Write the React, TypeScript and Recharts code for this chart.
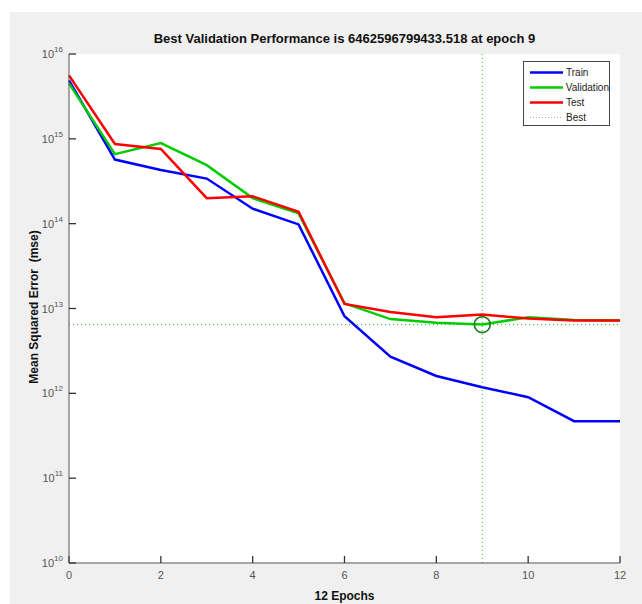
import React from 'react';
import { LineChart, Line, XAxis, YAxis, ReferenceLine, ReferenceDot } from 'recharts';

const epochs = [0, 1, 2, 3, 4, 5, 6, 7, 8, 9, 10, 11, 12];
const train = [4.9e15, 5.7e14, 4.3e14, 3.4e14, 1.5e14, 9.8e13, 8.1e12, 2.7e12, 1.6e12, 1.18e12, 9.0e11, 4.7e11, 4.7e11];
const validation = [4.5e15, 6.6e14, 8.9e14, 4.9e14, 2.0e14, 1.32e14, 1.15e13, 7.5e12, 6.8e12, 6.4626e12, 7.9e12, 7.3e12, 7.2e12];
const test = [5.6e15, 8.7e14, 7.6e14, 2.0e14, 2.1e14, 1.38e14, 1.13e13, 9.1e12, 7.9e12, 8.5e12, 7.6e12, 7.2e12, 7.2e12];

const bestEpoch = 9;
const bestPerf = 6462596799433.518;

const xTicks = [0, 2, 4, 6, 8, 10, 12];
const decades = [10, 11, 12, 13, 14, 15, 16];
const majorTicks = decades.map((d) => Math.pow(10, d));
const minorTicks: number[] = [];
decades.slice(0, -1).forEach((d) => {
  for (let m = 2; m <= 9; m++) minorTicks.push(m * Math.pow(10, d));
});

const data = epochs.map((e, i) => ({ epoch: e, train: train[i], validation: validation[i], test: test[i] }));

const FONT = '"Liberation Sans", Arial, Helvetica, sans-serif';
const AXIS = '#555';

const renderYTick = (props: any) => {
  const { x, y, payload, index } = props;
  const exp = Math.round(Math.log10(payload.value));
  return (
    <text key={`yt-${index}`} x={x - 6} y={y + 4} textAnchor="end" fill={AXIS} fontSize={11} fontFamily={FONT}>
      10
      <tspan dy={-6} fontSize={8}>{exp}</tspan>
    </text>
  );
};

const renderXTick = (props: any) => {
  const { x, y, payload, index } = props;
  return (
    <text key={`xt-${index}`} x={x} y={y + 16} textAnchor="middle" fill={AXIS} fontSize={11} fontFamily={FONT}>
      {payload.value}
    </text>
  );
};

const noLabel = () => <g />;

const legendItems = [
  { name: 'Train', color: '#0000ff', dash: undefined, w: 2.5 },
  { name: 'Validation', color: '#00cc00', dash: undefined, w: 2.5 },
  { name: 'Test', color: '#ff0000', dash: undefined, w: 2.5 },
  { name: 'Best', color: '#9ab89a', dash: '1 2', w: 1 },
];

export default function App() {
  return (
    <div style={{ position: 'absolute', left: 0, top: 0, width: 642, height: 604, background: '#fff', overflow: 'hidden' }}>
      <div style={{ position: 'absolute', left: 10, top: 12, width: 632, height: 592, background: '#f0f0f0' }}>
        <div style={{ position: 'absolute', left: 59, top: 42, width: 551, height: 509, background: '#fff' }} />
        <div style={{ position: 'absolute', left: 0, top: 0 }}>
          <LineChart width={632} height={592} data={data} margin={{ top: 42, right: 22, bottom: 21, left: 0 }}>
            <ReferenceLine y={bestPerf} stroke="#22c022" strokeDasharray="1 3" strokeWidth={1} />
            <ReferenceLine x={bestEpoch} stroke="#22c022" strokeDasharray="1 3" strokeWidth={1} />
            <Line dataKey="train" stroke="#0000ff" strokeWidth={2.5} dot={false} isAnimationActive={false} />
            <Line dataKey="validation" stroke="#00cc00" strokeWidth={2.5} dot={false} isAnimationActive={false} />
            <Line dataKey="test" stroke="#ff0000" strokeWidth={2.5} dot={false} isAnimationActive={false} />
            <ReferenceDot x={bestEpoch} y={bestPerf} r={8} fill="none" stroke="#1f7a1f" strokeWidth={1.6} />
            <XAxis
              dataKey="epoch"
              type="number"
              domain={[0, 12]}
              ticks={xTicks}
              tick={renderXTick}
              tickLine={{ stroke: '#333', strokeWidth: 1.3 }}
              tickSize={-7}
              tickMargin={7}
              height={20}
              stroke={AXIS}
              interval={0}
            />
            <YAxis
              yAxisId="minor"
              scale="log"
              domain={[1e10, 1e16]}
              allowDataOverflow
              ticks={minorTicks}
              tick={noLabel}
              tickLine={{ stroke: '#333', strokeWidth: 1.3 }}
              tickSize={-4}
              tickMargin={4}
              axisLine={false}
              width={0}
              interval={0}
            />
            <YAxis
              scale="log"
              domain={[1e10, 1e16]}
              allowDataOverflow
              ticks={majorTicks}
              tick={renderYTick}
              tickLine={{ stroke: '#333', strokeWidth: 1.3 }}
              tickSize={-7}
              tickMargin={7}
              width={59}
              stroke={AXIS}
              interval={0}
            />
          </LineChart>
        </div>
        <div
          style={{
            position: 'absolute',
            left: 513,
            top: 49,
            width: 87,
            height: 65,
            border: '1px solid #444',
            background: '#fff',
            boxSizing: 'border-box',
            paddingTop: 3,
          }}
        >
          {legendItems.map((it) => (
            <div key={it.name} style={{ display: 'flex', alignItems: 'center', height: 15, fontFamily: FONT, fontSize: 10, color: '#222' }}>
              <svg width={42} height={15} style={{ display: 'block' }}>
                <line x1={6} y1={7.5} x2={39} y2={7.5} stroke={it.color} strokeWidth={it.w} strokeDasharray={it.dash} />
              </svg>
              <span>{it.name}</span>
            </div>
          ))}
        </div>
        <div style={{ position: 'absolute', left: 59, width: 551, top: 19, textAlign: 'center', fontFamily: FONT, fontWeight: 'bold', fontSize: 13, color: '#111' }}>
          Best Validation Performance is 6462596799433.518 at epoch 9
        </div>
        <div style={{ position: 'absolute', left: 59, width: 551, top: 577, textAlign: 'center', fontFamily: FONT, fontWeight: 'bold', fontSize: 12, color: '#111' }}>
          12 Epochs
        </div>
        <div
          style={{
            position: 'absolute',
            left: 24 - 150,
            top: 296 - 8,
            width: 300,
            textAlign: 'center',
            transform: 'rotate(-90deg)',
            fontFamily: FONT,
            fontWeight: 'bold',
            fontSize: 12,
            color: '#111',
            whiteSpace: 'pre',
          }}
        >
          {'Mean Squared Error  (mse)'}
        </div>
      </div>
    </div>
  );
}
